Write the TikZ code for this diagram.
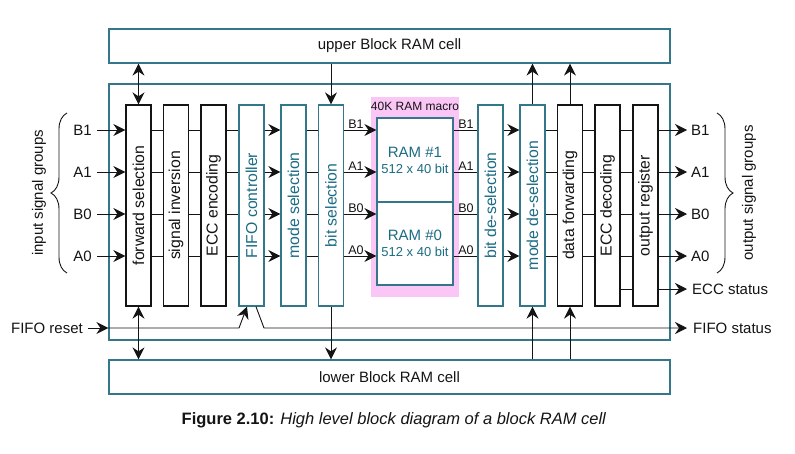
\documentclass[tikz,border=0pt]{standalone}
\usepackage{fontspec}
\setmainfont{Liberation Sans}
\usetikzlibrary{arrows.meta,decorations.pathreplacing}
\definecolor{tealline}{RGB}{52,118,138}
\definecolor{tealtext}{RGB}{28,108,132}
\definecolor{pinkbg}{RGB}{250,198,246}
\definecolor{ink}{RGB}{20,20,20}
\begin{document}
\begin{tikzpicture}[x=1pt,y=-1pt,
  font=\fontsize{15}{18}\selectfont,
  bigbox/.style={draw=tealline, line width=1.2pt, minimum width=561pt, inner sep=0pt, text=ink},
  colbox/.style={draw=ink, line width=1.3pt, fill=white, minimum width=25pt, minimum height=201pt, inner sep=0pt, text=ink, font=\fontsize{15.8}{18}\selectfont},
  tcolbox/.style={colbox, draw=tealline, text=tealtext},
  ramcell/.style={draw=tealline, line width=1.2pt, fill=white, minimum width=76pt, inner sep=0pt, text=tealtext, align=center},
  conn/.style={draw=ink, line width=0.9pt},
  arr/.style={conn, -{Stealth[length=12pt,width=12pt,inset=4pt]}},
  arrb/.style={conn, {Stealth[length=12pt,width=12pt,inset=4pt]}-{Stealth[length=12pt,width=12pt,inset=4pt]}},
  sig/.style={inner ysep=0pt, text=ink},
  small/.style={font=\fontsize{12.5}{14}\selectfont, inner sep=1pt, anchor=south, text=ink},
  brc/.style={draw=ink, line width=0.9pt, decorate, decoration={brace, amplitude=16pt}}
]
\useasboundingbox (0,0) rectangle (795,453);

% big boxes
\node[bigbox, minimum height=34pt] (upper) at (389.5,46) {upper Block RAM cell};
\node[bigbox, minimum height=256pt] (outer) at (389.5,212) {};
\node[bigbox, minimum height=34pt] (lower) at (389.5,377) {lower Block RAM cell};

% RAM macro
\node[fill=pinkbg, minimum width=88pt, minimum height=200pt, inner sep=0pt] (macro) at (415,197) {};
\node[font=\fontsize{12}{14}\selectfont, text=ink, inner sep=0pt] (macrolbl) at (415,106) {40K RAM macro};
\node[ramcell, minimum height=84pt] (ram1) at (415,160) {RAM \#1\\[-2pt]{\fontsize{13}{15}\selectfont 512 x 40 bit}};
\node[ramcell, minimum height=83pt] (ram0) at (415,243.5) {RAM \#0\\[-2pt]{\fontsize{13}{15}\selectfont 512 x 40 bit}};

% columns
\node[colbox]  (fwd)   at (138.5,205.5) {\rotatebox{90}{forward selection}};
\node[colbox]  (inv)   at (176,205.5)   {\rotatebox{90}{signal inversion}};
\node[colbox]  (eccen) at (213.5,205.5) {\rotatebox{90}{ECC encoding}};
\node[tcolbox] (fifo)  at (251.5,205.5) {\rotatebox{90}{FIFO controller}};
\node[tcolbox] (mode)  at (293.5,205.5) {\rotatebox{90}{mode selection}};
\node[tcolbox] (bits)  at (331,205.5)   {\rotatebox{90}{bit selection}};
\node[tcolbox] (bitde) at (490.5,205.5) {\rotatebox{90}{bit de-selection}};
\node[tcolbox] (modede) at (532.5,205.5) {\rotatebox{90}{mode de-selection}};
\node[colbox]  (dfwd)  at (570,205.5)   {\rotatebox{90}{data forwarding}};
\node[colbox]  (eccde) at (607.5,205.5) {\rotatebox{90}{ECC decoding}};
\node[colbox]  (oreg)  at (645.5,205.5) {\rotatebox{90}{output register}};

% input / output labels
\foreach \n/\yy in {B1/130,A1/172,B0/214,A0/256}{
  \node[sig, anchor=east, inner xsep=5pt] (in\n) at (97,\yy) {\n};
  \node[sig, anchor=west, inner xsep=4pt] (out\n) at (687,\yy) {\n};
  \draw[arr] (in\n.east) -- (fwd.west |- in\n.east);
  \draw[conn] (fwd.east |- in\n.east) -- (inv.west |- in\n.east);
  \draw[conn] (inv.east |- in\n.east) -- (eccen.west |- in\n.east);
  \draw[conn] (eccen.east |- in\n.east) -- (fifo.west |- in\n.east);
  \draw[arr] (fifo.east |- in\n.east) -- (mode.west |- in\n.east);
  \draw[conn] (mode.east |- in\n.east) -- (bits.west |- in\n.east);
  \draw[arr] (bits.east |- in\n.east) -- (ram1.west |- in\n.east);
  \draw[conn] (ram1.east |- in\n.east) -- (bitde.west |- in\n.east);
  \draw[arr] (bitde.east |- in\n.east) -- (modede.west |- in\n.east);
  \draw[conn] (modede.east |- in\n.east) -- (dfwd.west |- in\n.east);
  \draw[conn] (dfwd.east |- in\n.east) -- (eccde.west |- in\n.east);
  \draw[conn] (eccde.east |- in\n.east) -- (oreg.west |- in\n.east);
  \draw[arr] (oreg.east |- out\n.west) -- (out\n.west);
  \node[small] (rl\n) at (356,\yy) {\n};
  \node[small] (rr\n) at (466,\yy) {\n};
}

% ECC status
\node[sig, anchor=west, inner xsep=5pt] (eccst) at (687,289) {ECC status};
\draw[conn] (eccde.east |- eccst.west) -- (oreg.west |- eccst.west);
\draw[arr] (oreg.east |- eccst.west) -- (eccst.west);

% FIFO reset / status
\node[sig, anchor=east, inner xsep=5pt] (frst) at (88,328) {FIFO reset};
\node[sig, anchor=west, inner xsep=6pt] (fst) at (687,328) {FIFO status};
\coordinate (rbend) at (239,328);
\coordinate (sbend) at (264,328);
\draw[arr] (frst.east) -- (outer.west |- frst.east);
\draw[arr] (outer.west |- frst.east) -- (rbend) -- ([xshift=-4.5pt]fifo.south);
\draw[arr] ([xshift=4.5pt]fifo.south) -- (sbend) -- (fst.west);

% vertical connections
\draw[arrb] (upper.south -| fwd) -- (fwd.north);
\draw[arr] (upper.south -| bits) -- (bits.north);
\draw[arr] (modede.north) -- (upper.south -| modede);
\draw[arr] (dfwd.north) -- (upper.south -| dfwd);
\draw[arrb] (fwd.south) -- (lower.north -| fwd);
\draw[arr] (bits.south) -- (lower.north -| bits);
\draw[arr] (lower.north -| modede) -- (modede.south);
\draw[arr] (lower.north -| dfwd) -- (dfwd.south);

% braces
\coordinate (lbb) at (67,273);
\coordinate (lbt) at (67,113);
\coordinate (rbt) at (717,113);
\coordinate (rbb) at (717,273);
\draw[brc] (lbb) -- (lbt);
\draw[brc] (rbt) -- (rbb);
\node[rotate=90, text=ink] (ingrp) at (39,193) {input signal groups};
\node[rotate=90, text=ink] (outgrp) at (749,193) {output signal groups};

% caption
\node[text=ink, font=\fontsize{16.5}{19}\selectfont] (cap) at (394,420) {\textbf{Figure 2.10:} \textit{High level block diagram of a block RAM cell}};
\end{tikzpicture}
\end{document}
